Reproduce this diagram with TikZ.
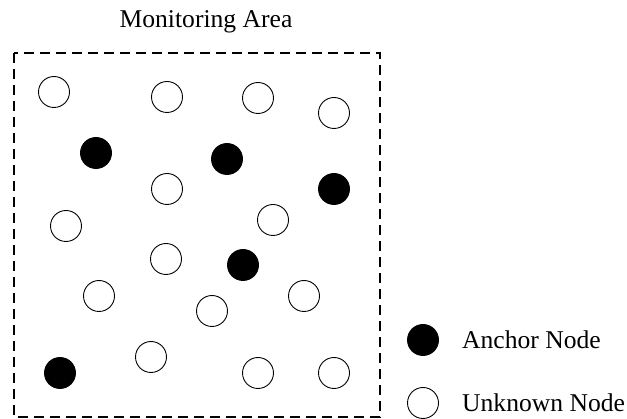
\documentclass[tikz,border=0pt]{standalone}
\usepackage{fontspec}
\setmainfont{Liberation Serif}
\begin{document}
\begin{tikzpicture}[x=1pt,y=-1pt,
  sensor/.style={circle,draw=black,line width=0.9pt,minimum size=31pt,inner sep=0pt},
  unknown/.style={sensor,fill=white},
  anchornode/.style={sensor,fill=black},
  label/.style={font=\fontsize{25.6pt}{30pt}\selectfont,inner sep=0pt}]
\useasboundingbox (0,0) rectangle (627,419);
\node[label,anchor=base] (title) at (206,28) {Monitoring Area};
\draw[line width=1.1pt,dash pattern=on 10pt off 6pt] (14,53) rectangle (380,417);
% unknown nodes
\node[unknown] (u1) at (54,92) {};
\node[unknown] (u2) at (167,97) {};
\node[unknown] (u3) at (258,98) {};
\node[unknown] (u4) at (334,113) {};
\node[unknown] (u5) at (167,189) {};
\node[unknown] (u6) at (66,226) {};
\node[unknown] (u7) at (273,220) {};
\node[unknown] (u8) at (166,259) {};
\node[unknown] (u9) at (99,296) {};
\node[unknown] (u10) at (212,311) {};
\node[unknown] (u11) at (304,296) {};
\node[unknown] (u12) at (151,357) {};
\node[unknown] (u13) at (258,373) {};
\node[unknown] (u14) at (334,373) {};
% anchor nodes
\node[anchornode] (a1) at (96,153) {};
\node[anchornode] (a2) at (227,159) {};
\node[anchornode] (a3) at (334,189) {};
\node[anchornode] (a4) at (243,265) {};
\node[anchornode] (a5) at (60,373) {};
% legend
\node[anchornode] (la) at (423,340) {};
\node[label,anchor=west] (lat) at (462,340) {Anchor Node};
\node[unknown] (lu) at (423,403) {};
\node[label,anchor=west] (lut) at (462,403) {Unknown Node};
\end{tikzpicture}
\end{document}
